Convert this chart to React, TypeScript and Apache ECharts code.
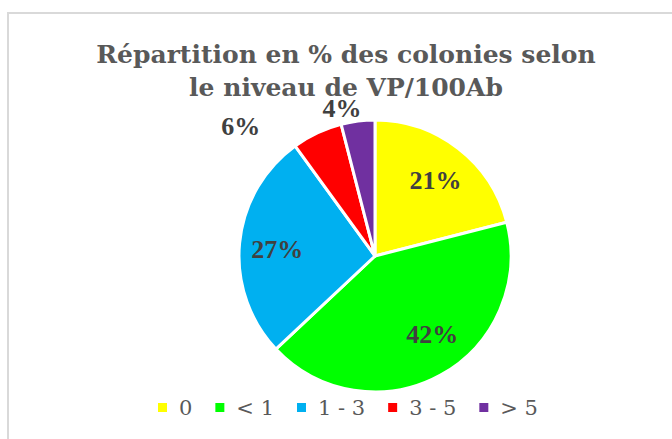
import React, { useEffect, useRef } from "react";
import * as echarts from "echarts";

const categories = ["0", "< 1", "1 - 3", "3 - 5", "> 5"];
const values = [21, 42, 27, 6, 4];
const colors = ["#FFFF00", "#00FF00", "#00B0F0", "#FF0000", "#7030A0"];
const titleText = "Répartition en % des colonies selon\nle niveau de VP/100Ab";
// label nudges from default inside position (layout, not data)
const labelNudges: [number, number][] = [
  [17, -19],
  [23, 16],
  [-27, 0],
  [-104, -65],
  [-24, -77],
];

const FONT = "'Liberation Serif', 'DejaVu Serif', serif";
const WIDE = "'DejaVu Serif', serif";

export default function App() {
  const ref = useRef<HTMLDivElement>(null);
  useEffect(() => {
    if (!ref.current) return;
    const chart = echarts.init(ref.current, null, { renderer: "svg" });
    chart.setOption({
      animation: false,
      backgroundColor: "#ffffff",
      graphic: [
        {
          type: "rect",
          shape: { x: 8, y: 13, width: 700, height: 460 },
          style: { fill: "none", stroke: "#d9d9d9", lineWidth: 2 },
          silent: true,
          z: -10,
        },
      ],
      title: {
        text: titleText,
        left: 341,
        textAlign: "center",
        top: 33,
        textStyle: {
          fontFamily: WIDE,
          fontWeight: "bold",
          fontSize: 25,
          lineHeight: 33,
          color: "#595959",
        },
      },
      legend: {
        data: categories,
        left: 151,
        top: 392,
        itemWidth: 11,
        itemHeight: 11,
        itemGap: 21,
        icon: "rect",
        textStyle: { fontFamily: WIDE, fontSize: 21, color: "#595959", padding: [0, 0, 0, 6] },
      },
      series: [
        {
          type: "pie",
          center: [375, 256],
          radius: 136,
          startAngle: 90,
          clockwise: true,
          avoidLabelOverlap: false,
          itemStyle: { borderColor: "#ffffff", borderWidth: 3 },
          label: {
            show: true,
            position: "inside",
            formatter: "{c}%",
            fontFamily: FONT,
            fontWeight: "bold",
            fontSize: 26,
            color: "#404040",
          },
          labelLine: { show: false },
          labelLayout: (params: any) => {
            const n = labelNudges[params.dataIndex] || [0, 0];
            return { dx: n[0], dy: n[1] };
          },
          data: categories.map((c, i) => ({
            name: c,
            value: values[i],
            itemStyle: { color: colors[i] },
          })),
        },
      ],
    });
    return () => chart.dispose();
  }, []);
  return (
    <div
      ref={ref}
      style={{ position: "absolute", left: 0, top: 0, width: 672, height: 439 }}
    />
  );
}
